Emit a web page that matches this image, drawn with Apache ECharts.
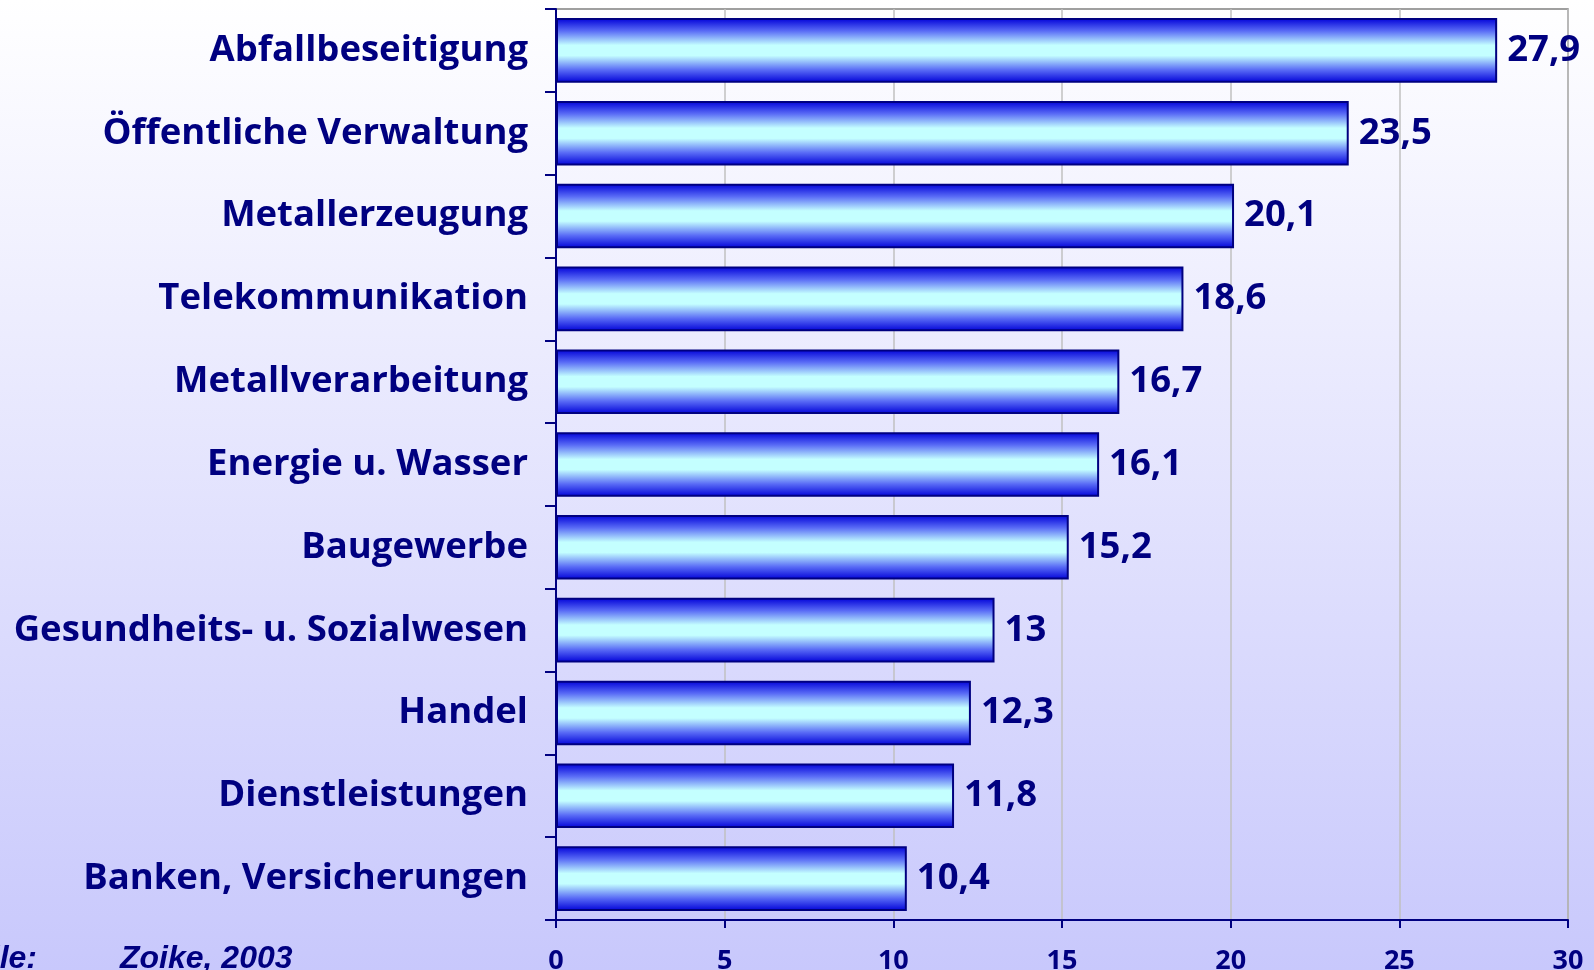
<!DOCTYPE html>
<html>
<head>
<meta charset="utf-8">
<script src="https://cdn.jsdelivr.net/npm/echarts@6/dist/echarts.min.js"></script>
<style>
  html, body { margin: 0; padding: 0; }
  #chart { width: 1594px; height: 970px; }
</style>
</head>
<body>
<div id="chart"></div>
<script>
const categories = [
  'Abfallbeseitigung',
  'Öffentliche Verwaltung',
  'Metallerzeugung',
  'Telekommunikation',
  'Metallverarbeitung',
  'Energie u. Wasser',
  'Baugewerbe',
  'Gesundheits- u. Sozialwesen',
  'Handel',
  'Dienstleistungen',
  'Banken, Versicherungen'
];
const values = [27.9, 23.5, 20.1, 18.6, 16.7, 16.1, 15.2, 13, 12.3, 11.8, 10.4];
const sourceLabel = 'Quelle:';
const sourceText = 'Zoike, 2003';

const navy = '#000080';
const chart = echarts.init(document.getElementById('chart'));

const option = {
  animation: false,
  backgroundColor: {
    type: 'linear', x: 0, y: 0, x2: 0, y2: 1,
    colorStops: [
      { offset: 0, color: '#ffffff' },
      { offset: 1, color: '#c8c8fc' }
    ]
  },
  grid: {
    left: 556, right: 26, top: 9, bottom: 50,
    outerBoundsMode: 'none',
    containLabel: false,
    show: true,
    borderColor: '#808080',
    borderWidth: 1.5,
    backgroundColor: 'transparent'
  },
  xAxis: {
    type: 'value',
    min: 0, max: 30, interval: 5,
    axisLine: { show: true, lineStyle: { color: navy, width: 2 } },
    axisTick: { show: true, length: 8, lineStyle: { color: navy, width: 2 } },
    splitLine: { show: true, lineStyle: { color: '#c0c0c0', width: 1.5 } },
    axisLabel: {
      margin: 28,
      color: navy,
      fontFamily: 'Open Sans',
      fontWeight: 'bold',
      fontSize: 27
    }
  },
  yAxis: {
    type: 'category',
    data: categories,
    inverse: true,
    axisLine: { show: true, lineStyle: { color: navy, width: 2 } },
    axisTick: { show: true, length: 11, lineStyle: { color: navy, width: 2 } },
    axisLabel: {
      margin: 28,
      color: navy,
      fontFamily: 'Open Sans',
      fontWeight: 'bold',
      fontSize: 36.5,
      padding: [9, 0, 0, 0]
    }
  },
  series: [{
    type: 'bar',
    data: values,
    barCategoryGap: '22%',
    itemStyle: {
      borderColor: navy,
      borderWidth: 2,
      color: {
        type: 'linear', x: 0, y: 0, x2: 0, y2: 1,
        colorStops: [
          { offset: 0, color: '#0000d8' },
          { offset: 0.2, color: '#5a6cf6' },
          { offset: 0.42, color: '#c4ffff' },
          { offset: 0.58, color: '#c4ffff' },
          { offset: 0.8, color: '#5a6cf6' },
          { offset: 1, color: '#0000d8' }
        ]
      }
    },
    label: {
      show: true,
      position: 'right',
      distance: 10,
      color: navy,
      fontFamily: 'Open Sans',
      fontWeight: 'bold',
      fontSize: 36.5,
      padding: [9, 0, 0, 0],
      formatter: p => String(p.value).replace('.', ',')
    }
  }],
  graphic: [
    {
      type: 'text', x: 37, y: 943,
      style: {
        text: sourceLabel, textAlign: 'right',
        fill: navy, font: 'italic bold 32px "Liberation Sans", Arial'
      }
    },
    {
      type: 'text', x: 120, y: 943,
      style: {
        text: sourceText,
        fill: navy, font: 'italic bold 32px "Liberation Sans", Arial'
      }
    }
  ]
};
chart.setOption(option);
</script>
</body>
</html>
